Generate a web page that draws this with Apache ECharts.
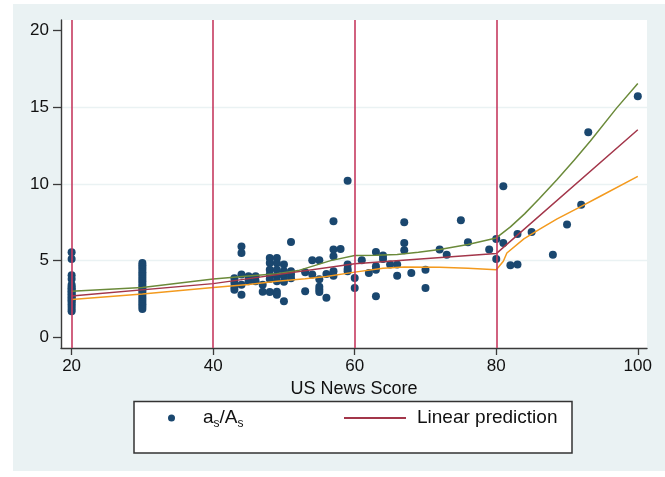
<!DOCTYPE html>
<html>
<head>
    <meta charset="utf-8">
    <script src="https://cdn.jsdelivr.net/npm/echarts@6/dist/echarts.min.js"></script>
    <style>
        body { margin: 0; background: #fff; }
        #panel { position: absolute; left: 13px; top: 4px; width: 652px; height: 467px; background: #eaf2f3; }
        #chart { position: absolute; left: 0; top: 0; width: 665px; height: 477px; }
    </style>
</head>
<body>
<div id="panel"></div>
<div id="chart"></div>

<script>
  // 散点：US News Score 与 as/As
  var pointX = [
    20, 20, 20, 20, 20, 20, 20, 20, 20, 20, 20, 20, 20, 20, 20, 20, 20, 20, 20, 20,
    30, 30, 30, 30, 30, 30, 30, 30, 30, 30, 30, 30, 30, 30, 30, 30, 30, 30, 30, 30, 30,
    43, 43, 43, 43, 44, 44, 44, 44, 44, 45, 45, 46, 46, 47, 47,
    48, 48, 48, 48, 48, 48, 49, 49, 49, 49, 49, 49, 49,
    50, 50, 50, 50, 50, 51, 51, 51, 51, 53, 53, 54, 54,
    55, 55, 55, 55, 55, 56, 56, 57, 57, 57, 57, 57, 58,
    59, 59, 59, 59, 60, 60, 61, 62, 63, 63, 63, 63, 64, 64, 65, 66, 66,
    67, 67, 67, 68, 70, 70, 72, 73, 75, 76, 79, 80, 80, 81, 81,
    82, 83, 83, 85, 88, 90, 92, 93, 100
  ];
  var pointY = [
    5.54, 5.1, 4.05, 3.8, 3.42, 3.3, 3.2, 3.1, 3.0, 2.9, 2.8, 2.7, 2.6, 2.5, 2.4, 2.3, 2.15, 2.0, 1.85, 1.7,
    4.85, 4.7, 4.55, 4.4, 4.25, 4.1, 3.95, 3.8, 3.65, 3.5, 3.35, 3.2, 3.05, 2.9, 2.75, 2.6, 2.45, 2.3, 2.15, 2.0, 1.85,
    3.85, 3.55, 3.3, 3.1, 5.93, 5.5, 4.09, 3.43, 2.78, 3.98, 3.65, 3.98, 3.65, 3.43, 2.97,
    5.17, 4.85, 4.41, 4.09, 3.8, 2.95, 5.17, 4.85, 4.41, 3.98, 3.65, 2.97, 2.78,
    4.74, 4.3, 3.98, 3.62, 2.35, 6.22, 4.3, 4.09, 3.85, 4.25, 3.0, 5.02, 4.09,
    5.02, 3.78, 3.3, 3.11, 2.95, 4.12, 2.58, 7.57, 5.72, 5.28, 4.3, 4.02, 5.76,
    10.22, 4.74, 4.46, 4.3, 3.87, 3.22, 5.02, 4.2, 5.57, 4.63, 4.41, 2.67, 5.33, 5.1, 4.74, 4.74, 4.02,
    7.5, 6.15, 5.67, 4.2, 4.41, 3.22, 5.72, 5.39, 7.63, 6.2, 5.72, 6.41, 5.11, 9.85, 6.15,
    4.7, 6.74, 4.74, 6.87, 5.39, 7.35, 8.65, 13.37, 15.72
  ];

  // 线性预测（分段，节点 20/40/60/80）
  var predX = [20, 40, 60, 80, 100];
  var predY = [2.7, 3.5, 4.8, 5.46, 13.54];

  // 置信区间上限
  var upperX = [20, 30, 40, 45, 49, 52, 56.6, 60, 63, 66, 69, 72, 76, 80, 82, 84, 86, 88.6, 91, 93.3, 97, 100];
  var upperY = [3.0, 3.24, 3.8, 4.0, 4.15, 4.35, 5.0, 5.33, 5.35, 5.4, 5.55, 5.72, 6.05, 6.48, 7.2, 8.05, 9.0, 10.3, 11.55, 12.8, 14.95, 16.55];

  // 置信区间下限
  var lowerX = [20, 30, 40, 45, 49, 53, 56, 60, 64, 67, 72, 76, 80, 81, 81.5, 83.9, 86.2, 88.6, 91.6, 94.7, 100];
  var lowerY = [2.46, 2.83, 3.25, 3.45, 3.65, 3.82, 3.97, 4.25, 4.5, 4.58, 4.57, 4.5, 4.4, 4.96, 5.5, 6.42, 7.07, 7.72, 8.44, 9.2, 10.5];

  // 竖线位置与刻度
  var knotX = [20, 40, 60, 80];
  var xTicks = [20, 40, 60, 80, 100];
  var yTicks = [0, 5, 10, 15, 20];

  function pairs(xs, ys) {
    return xs.map(function (x, i) { return [x, ys[i]]; });
  }

  var font = "'Liberation Sans', Arial, sans-serif";
  var ink = '#111111';
  var myChart = echarts.init(document.getElementById('chart'));

  var option = {
    backgroundColor: 'transparent',
    animation: false,
    textStyle: { fontFamily: font, color: ink },
    grid: {
      left: 61, right: 18, top: 20, bottom: 129,
      show: true, backgroundColor: '#ffffff', borderWidth: 0
    },
    graphic: [{
      type: 'rect', silent: true, z: 0,
      shape: { x: 134, y: 401.5, width: 438, height: 51.5 },
      style: { fill: '#ffffff', stroke: '#333333', lineWidth: 1.5 }
    }],
    legend: [{
      // 散点图例
      left: 168, top: 408.5, padding: 0,
      itemWidth: 7, itemHeight: 7,
      data: [{ name: 'as/As', icon: 'circle' }],
      formatter: function () { return '{gap|}{n|a}{s|s}{n|/A}{s|s}'; },
      textStyle: {
        color: ink, fontFamily: font,
        rich: {
          gap: { width: 23 },
          n: { fontSize: 19, lineHeight: 24, fontFamily: font, color: ink },
          s: { fontSize: 12, lineHeight: 24, fontFamily: font, color: ink, verticalAlign: 'bottom', padding: [9, 0, 0, 0] }
        }
      }
    }, {
      // 线性预测图例
      left: 343, top: 408.5, padding: 0,
      itemWidth: 62, itemHeight: 7,
      data: [{ name: 'Linear prediction', itemStyle: { opacity: 0 } }],
      formatter: function (name) { return '{gap|}{n|' + name + '}'; },
      textStyle: {
        color: ink, fontFamily: font,
        rich: {
          gap: { width: 6 },
          n: { fontSize: 19, lineHeight: 24, fontFamily: font, color: ink }
        }
      }
    }],
    xAxis: {
      type: 'value', min: 18.5, max: 101.3,
      name: 'US News Score', nameLocation: 'middle', nameGap: 31,
      nameTextStyle: { fontSize: 18, color: ink, fontFamily: font },
      axisLine: { onZero: false, lineStyle: { color: '#3a3a3a', width: 1.4 } },
      axisTick: { customValues: xTicks, length: 7, lineStyle: { color: '#3a3a3a', width: 1.3 } },
      axisLabel: { customValues: xTicks, fontSize: 17, color: ink, margin: 10, fontFamily: font },
      splitLine: { show: false }
    },
    yAxis: {
      type: 'value', min: -0.7, max: 20.7,
      axisLine: { show: true, onZero: false, lineStyle: { color: '#3a3a3a', width: 1.4 } },
      axisTick: { show: true, customValues: yTicks, length: 8, lineStyle: { color: '#3a3a3a', width: 1.3 } },
      axisLabel: { customValues: yTicks, fontSize: 17, color: ink, margin: 12, fontFamily: font },
      splitLine: { show: true, showMinLine: false, showMaxLine: false, lineStyle: { color: '#eaf2f3', width: 1.3 } }
    },
    series: [{
      name: 'as/As',
      type: 'scatter',
      symbol: 'circle',
      symbolSize: 8,
      itemStyle: { color: '#1a476f', opacity: 1 },
      z: 2,
      data: pairs(pointX, pointY)
    }, {
      name: 'upper',
      type: 'line',
      symbol: 'none',
      lineStyle: { color: '#6b8a3a', width: 1.5 },
      z: 3,
      data: pairs(upperX, upperY)
    }, {
      name: 'lower',
      type: 'line',
      symbol: 'none',
      lineStyle: { color: '#f39a1e', width: 1.5 },
      z: 3,
      data: pairs(lowerX, lowerY)
    }, {
      name: 'Linear prediction',
      type: 'line',
      symbol: 'none',
      lineStyle: { color: '#a3364a', width: 1.5 },
      z: 4,
      data: pairs(predX, predY),
      markLine: {
        silent: true, symbol: 'none',
        label: { show: false },
        lineStyle: { color: '#c63a60', width: 1.6, type: 'solid' },
        data: knotX.map(function (v) { return { xAxis: v }; })
      }
    }]
  };

  myChart.setOption(option);
</script>
</body>
</html>
